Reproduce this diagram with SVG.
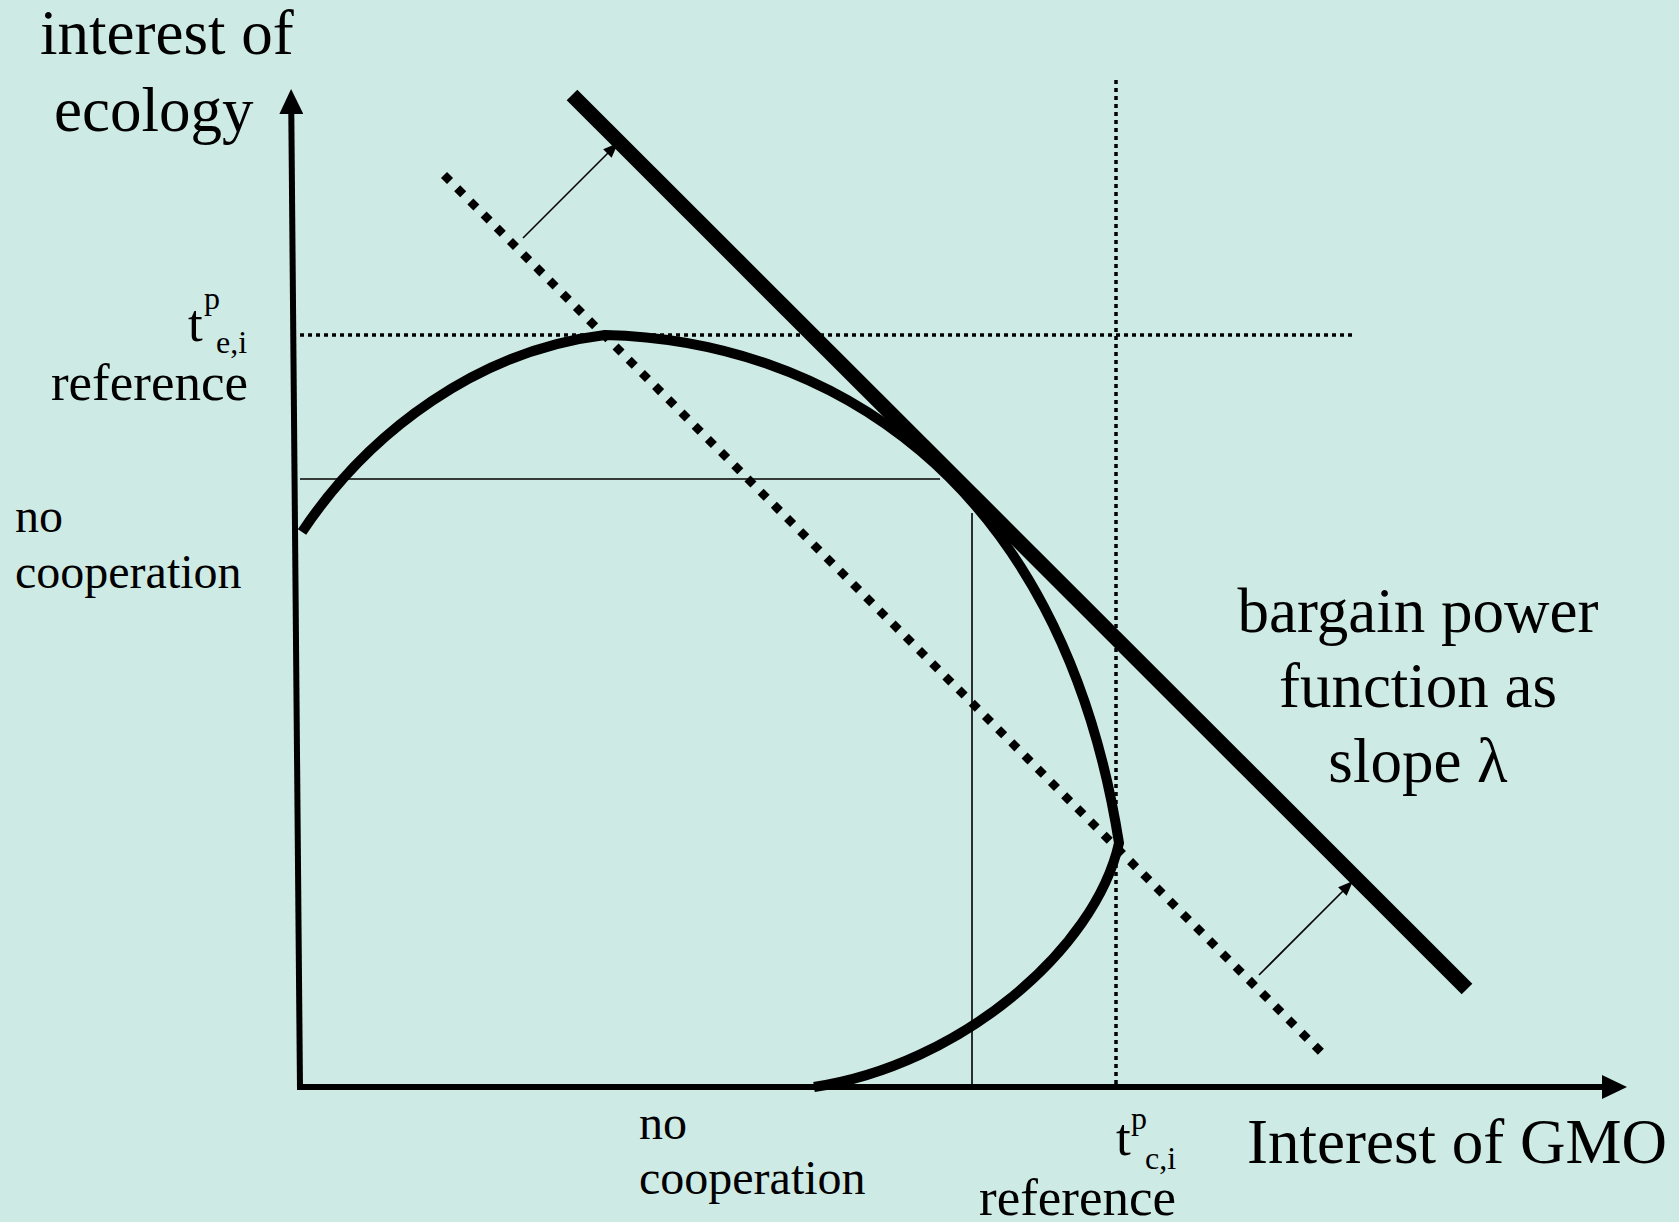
<svg xmlns="http://www.w3.org/2000/svg" width="1679" height="1222" viewBox="0 0 1679 1222">
<style>
text{font-family:"Liberation Serif","Times New Roman",serif;fill:#000}
.big{font-size:63px}
.mid{font-size:53px}
.sm{font-size:48px}
.idx{font-size:32px}
.axis{stroke:#000;stroke-width:6;fill:none}
.thin{stroke:#000;stroke-width:1.6;fill:none}
.dot{stroke:#000;stroke-width:3.5;stroke-dasharray:4 4;fill:none}
</style>
<defs>
<marker id="axhead" markerUnits="userSpaceOnUse" markerWidth="26" markerHeight="24" refX="1" refY="12" orient="auto">
<path d="M0,0 L25,12 L0,24 z" fill="#000"/>
</marker>
<marker id="thinhead" markerUnits="userSpaceOnUse" markerWidth="16" markerHeight="12" refX="15" refY="6" orient="auto">
<path d="M0,0 L15,6 L0,12 z" fill="#000"/>
</marker>
</defs>
<rect width="1679" height="1222" fill="#CEEAE4"/>

<g id="guides">
<path class="dot" d="M300,335 L1352,335"/>
<path class="dot" d="M1116,80 L1116,1085"/>
<path class="thin" d="M300,479 L940,479"/>
<path class="thin" d="M972,513 L972,1087"/>
</g>

<g id="axes">
<path class="axis" d="M300,1090 L291.3,113" marker-end="url(#axhead)"/>
<path class="axis" d="M297,1087 L1603,1087" marker-end="url(#axhead)"/>
</g>

<g id="frontier">
<path d="M302,532 C370,430 480,350 605,335 C820,340 1060,470 1119,843 C1095,950 960,1065 814,1087" fill="none" stroke="#000" stroke-width="10" stroke-linejoin="miter"/>
</g>

<g id="bargain-lines">
<path d="M444,175 L1321,1052" fill="none" stroke="#000" stroke-width="8.5" stroke-dasharray="8.5 10.16"/>
<path d="M572,95 L1467,989" fill="none" stroke="#000" stroke-width="15"/>
</g>

<g id="connectors">
<path class="thin" d="M523,238 L618,143" marker-end="url(#thinhead)"/>
<path class="thin" d="M1259,975 L1353,881" marker-end="url(#thinhead)"/>
</g>

<g id="label-y-axis">
<text class="big" x="40" y="54">interest of</text>
<text class="big" x="54" y="131">ecology</text>
</g>

<g id="label-tpei">
<text class="mid" x="188" y="341">t</text>
<text class="idx" x="204" y="309">p</text>
<text class="idx" x="216" y="353">e,i</text>
<text class="mid" x="248" y="400" text-anchor="end">reference</text>
</g>

<g id="label-nocoop-left">
<text class="sm" x="15" y="532">no</text>
<text class="sm" x="15" y="588">cooperation</text>
</g>

<g id="label-nocoop-bottom">
<text class="sm" x="639" y="1139">no</text>
<text class="sm" x="639" y="1194">cooperation</text>
</g>

<g id="label-tpci">
<text class="mid" x="1116" y="1155">t</text>
<text class="idx" x="1131" y="1129">p</text>
<text class="idx" x="1145" y="1169">c,i</text>
<text class="mid" x="979" y="1215">reference</text>
</g>

<g id="label-x-axis">
<text class="big" x="1247" y="1163">Interest of GMO</text>
</g>

<g id="label-bargain">
<text class="big" x="1418" y="632" text-anchor="middle">bargain power</text>
<text class="big" x="1418" y="707" text-anchor="middle">function as</text>
<text class="big" x="1418" y="782" text-anchor="middle">slope λ</text>
</g>
</svg>
